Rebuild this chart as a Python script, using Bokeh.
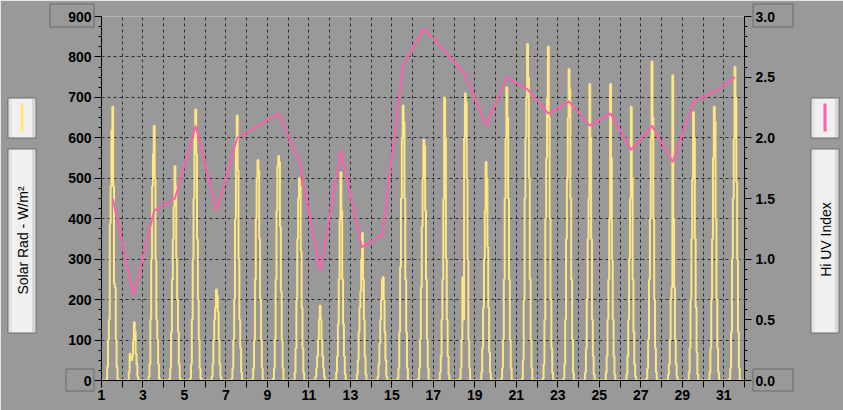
import math
from bokeh.plotting import figure
from bokeh.models import Range1d, LinearAxis, FixedTicker, PrintfTickFormatter
from bokeh.embed import file_html
from bokeh.resources import INLINE
from bokeh.core.properties import value

# ---------------- data ----------------
days = list(range(1, 32))
profile_hours = list(range(7, 20))          # hours covered by each daily profile

# Solar radiation (W/m^2), one value per hour 07..19 for each day (night = 0)
sr01 = [33, 99, 150, 387, 480, 618, 677, 480, 239, 230, 99, 33, 4]
sr02 = [0, 20, 66, 60, 50, 60, 100, 144, 120, 66, 40, 10, 0]
sr03 = [10, 40, 150, 300, 480, 560, 630, 500, 300, 150, 100, 40, 5]
sr04 = [5, 30, 120, 250, 350, 430, 530, 480, 300, 200, 120, 40, 5]
sr05 = [5, 40, 150, 300, 450, 600, 670, 560, 350, 200, 100, 30, 5]
sr06 = [0, 10, 40, 100, 150, 180, 225, 210, 170, 100, 40, 10, 0]
sr07 = [5, 30, 100, 200, 400, 600, 655, 520, 300, 150, 80, 20, 0]
sr08 = [5, 30, 100, 250, 400, 500, 545, 520, 350, 200, 100, 30, 0]
sr09 = [5, 30, 100, 250, 420, 530, 555, 540, 380, 220, 100, 30, 0]
sr10 = [0, 20, 80, 200, 350, 450, 500, 480, 320, 180, 80, 20, 0]
sr11 = [0, 10, 30, 60, 100, 150, 185, 150, 100, 60, 30, 10, 0]
sr12 = [0, 20, 60, 140, 250, 400, 515, 420, 250, 140, 60, 15, 0]
sr13 = [0, 15, 50, 120, 180, 220, 300, 365, 250, 150, 60, 15, 0]
sr14 = [0, 10, 40, 90, 150, 200, 250, 255, 200, 120, 50, 10, 0]
sr15 = [5, 30, 120, 280, 450, 600, 680, 640, 450, 250, 120, 30, 0]
sr16 = [5, 30, 100, 230, 380, 500, 595, 580, 420, 250, 100, 30, 0]
sr17 = [0, 20, 60, 150, 250, 450, 700, 600, 300, 150, 60, 15, 0]
sr18 = [5, 30, 100, 255, 150, 600, 710, 690, 500, 300, 100, 30, 0]
sr19 = [0, 20, 80, 180, 300, 420, 540, 500, 330, 180, 70, 20, 0]
sr20 = [5, 30, 100, 250, 450, 600, 725, 650, 450, 250, 100, 30, 0]
sr21 = [5, 50, 200, 450, 600, 700, 832, 750, 500, 250, 100, 30, 0]
sr22 = [5, 40, 150, 400, 550, 700, 826, 650, 400, 200, 80, 20, 0]
sr23 = [5, 40, 150, 350, 500, 650, 770, 720, 450, 250, 100, 20, 0]
sr24 = [0, 20, 80, 200, 350, 450, 733, 600, 350, 150, 60, 15, 0]
sr25 = [0, 20, 60, 150, 250, 400, 733, 550, 300, 150, 60, 15, 0]
sr26 = [0, 15, 60, 150, 300, 450, 677, 500, 250, 120, 40, 10, 0]
sr27 = [5, 30, 100, 250, 400, 600, 789, 650, 400, 200, 80, 20, 0]
sr28 = [0, 15, 40, 100, 200, 230, 755, 400, 230, 100, 40, 10, 0]
sr29 = [0, 20, 80, 200, 350, 500, 663, 600, 350, 180, 70, 15, 0]
sr30 = [0, 20, 80, 200, 350, 550, 677, 640, 400, 200, 80, 20, 0]
sr31 = [5, 30, 120, 300, 450, 600, 775, 700, 490, 300, 120, 30, 0]

# Daily high UV index (plotted at 13:00)
uv_index = [1.5, 0.7, 1.4, 1.5, 2.1, 1.4, 2.0, 2.1, 2.2, 1.8, 0.9, 1.9, 1.1, 1.2, 2.6, 2.9,
            2.72, 2.52, 2.1, 2.5, 2.4, 2.2, 2.3, 2.1, 2.2, 1.9, 2.1, 1.8, 2.3, 2.38, 2.5]
uv_hour = 13

left_ticks = [0, 100, 200, 300, 400, 500, 600, 700, 800, 900]
right_ticks = [0.0, 0.5, 1.0, 1.5, 2.0, 2.5, 3.0]
x_ticks = list(range(1, 33))
x_labelled = list(range(1, 33, 2))

left_title = "Solar Rad - W/m²"
right_title = "Hi UV Index"

# ---------------- build series ----------------
profiles = [sr01, sr02, sr03, sr04, sr05, sr06, sr07, sr08, sr09, sr10, sr11, sr12, sr13, sr14, sr15,
            sr16, sr17, sr18, sr19, sr20, sr21, sr22, sr23, sr24, sr25, sr26, sr27, sr28, sr29, sr30, sr31]
sx, sy = [], []
for d, prof in zip(days, profiles):
    hv = dict(zip(profile_hours, prof))
    for h in range(24):
        sx.append(d + h / 24.0)
        sy.append(hv.get(h, 0))
sx.append(days[-1] + 1)
sy.append(0)
uvx = [d + uv_hour / 24.0 for d in days]

# ---------------- style ----------------
BG = "#999999"
YEL = "#FFE680"
PINK = "#FF5FAF"
GRID = "#2E2E2E"
TICKFONT = "Liberation Sans"

W, H = 843, 410
FL, FR, FT, FB = 101, 744, 16, 380   # frame edges in canvas pixels

p = figure(width=W, height=H, x_range=Range1d(1, 32), y_range=Range1d(0, 900),
           output_backend="svg", toolbar_location=None,
           background_fill_color=BG, border_fill_color=BG, outline_line_color=None,
           min_border_left=FL, min_border_right=W - FR, min_border_top=FT, min_border_bottom=H - FB)
p.extra_y_ranges = {"uv": Range1d(0, 3), "py": Range1d(FB, FT)}
p.extra_x_ranges = {"px": Range1d(FL, FR)}

def style_axis(ax):
    ax.axis_line_color = "black"
    ax.axis_line_width = 1
    ax.major_tick_line_color = "black"
    ax.minor_tick_line_color = "black"
    ax.major_tick_in = 0
    ax.minor_tick_in = 0
    ax.major_tick_out = 7
    ax.minor_tick_out = 3
    ax.major_label_text_font = TICKFONT
    ax.major_label_text_font_style = "bold"
    ax.major_label_text_font_size = "14px"
    ax.major_label_text_color = "black"

# left axis
la = p.yaxis[0]
la.ticker = FixedTicker(ticks=left_ticks, minor_ticks=[v for v in range(0, 901, 25)])
style_axis(la)
la.major_label_standoff = 3

# bottom axis
ba = p.xaxis[0]
ba.ticker = FixedTicker(ticks=x_ticks)
style_axis(ba)
ba.major_label_standoff = 2
ba.major_label_overrides = {d: ("" if d not in x_labelled else str(d)) for d in x_ticks}

# right axis
ra = LinearAxis(y_range_name="uv",
                ticker=FixedTicker(ticks=right_ticks, minor_ticks=[i / 12.0 for i in range(0, 37)]),
                formatter=PrintfTickFormatter(format="%.1f"))
style_axis(ra)
ra.major_label_standoff = 4
p.add_layout(ra, "right")

# grids
p.xgrid.ticker = FixedTicker(ticks=x_ticks)
p.ygrid.ticker = FixedTicker(ticks=left_ticks)
for g in (p.xgrid[0], p.ygrid[0]):
    g.grid_line_color = GRID
    g.grid_line_dash = "3 3"
    g.grid_line_width = 1

# data
p.step(sx, sy, mode="center", line_color=YEL, line_width=2)
p.line(uvx, uv_index, y_range_name="uv", line_color=PINK, line_width=2)

# ---------------- decorations (canvas pixel coordinates) ----------------
def box(l, r, t, b, fill, line="#6A6A6A", lw=1):
    p.quad(left=[l], right=[r], top=[t], bottom=[b], x_range_name="px", y_range_name="py",
           fill_color=fill, fill_alpha=1 if fill else 0, line_color=line, line_width=lw, level="overlay")

def legend_box(l, r, t, b):
    box(l, r, t, b, "#F0F0F0")
    p.quad(left=[l + 1], right=[l + 4], top=[t + 1], bottom=[b - 1], x_range_name="px", y_range_name="py",
           fill_color="#E2E2E2", line_color=None, level="overlay")
    p.quad(left=[r - 4], right=[r - 1], top=[t + 1], bottom=[b - 1], x_range_name="px", y_range_name="py",
           fill_color="#D6D6D6", line_color=None, level="overlay")

# left side
legend_box(7.5, 35.5, 97.5, 137.5)
p.line([21.5, 21.5], [103, 131], x_range_name="px", y_range_name="py", line_color=YEL, line_width=3, level="overlay")
legend_box(7.5, 35.5, 148.5, 332.5)
p.text([22], [240], text=[left_title], x_range_name="px", y_range_name="py", angle=math.pi / 2,
       text_align="center", text_baseline="middle", text_font=value("Liberation Sans"),
       text_font_size="14px", text_color="black", level="overlay")
box(49.5, 93.5, 3.5, 26.5, None)
box(65.5, 93.5, 368.5, 390.5, None)

# right side
legend_box(810.5, 838.5, 97.5, 137.5)
p.line([824.5, 824.5], [103, 131], x_range_name="px", y_range_name="py", line_color=PINK, line_width=3, level="overlay")
legend_box(810.5, 838.5, 148.5, 332.5)
p.text([825], [239], text=[right_title], x_range_name="px", y_range_name="py", angle=math.pi / 2,
       text_align="center", text_baseline="middle", text_font=value("Liberation Sans"),
       text_font_size="14px", text_color="black", level="overlay")
box(752.5, 792.5, 3.5, 26.5, None)
box(752.5, 792.5, 368.5, 390.5, None)

open("out.html", "w").write(file_html(p, INLINE))
